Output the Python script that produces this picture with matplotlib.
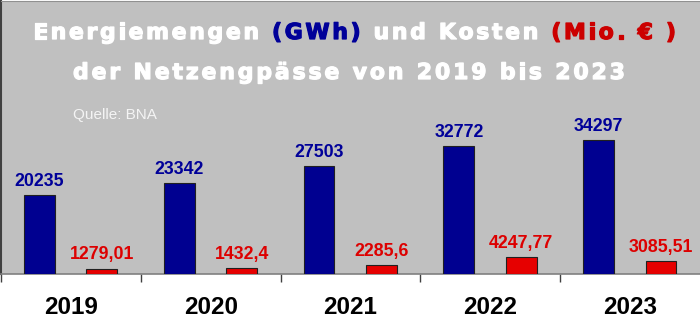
import numpy as np
import matplotlib.pyplot as plt
import matplotlib.patheffects as pe
from matplotlib.font_manager import FontProperties, findfont, get_font
try:
    from matplotlib.ft2font import LoadFlags
    NO_HINT = LoadFlags.NO_HINTING
except ImportError:
    from matplotlib.ft2font import LOAD_NO_HINTING as NO_HINT

# Daten
jahre = ['2019', '2020', '2021', '2022', '2023']
energie_gwh = [20235, 23342, 27503, 32772, 34297]
kosten_mio = [1279.01, 1432.4, 2285.6, 4247.77, 3085.51]
kosten_labels = ['1279,01', '1432,4', '2285,6', '4247,77', '3085,51']

W, H = 700, 334
BLAU = '#000090'
ROT = '#e60000'


def spaced_line(fig, parts, x0, x1, y_px, size):
    # Titelzeile mit Buchstabenabstand, Zeichen fuer Zeichen von x0 bis x1
    fp = FontProperties(family='DejaVu Sans', weight='bold', size=size)
    font = get_font(findfont(fp))
    font.set_size(size, fig.dpi)
    chars = [(c, col) for txt, col in parts for c in txt]
    adv = []
    for c, _ in chars:
        g = font.load_char(ord(c), flags=NO_HINT)
        adv.append(g.linearHoriAdvance / 65536)
    spacing = ((x1 - x0) - sum(adv)) / (len(chars) - 1)
    x = x0
    for (c, col), a in zip(chars, adv):
        if c != ' ':
            fig.text(x / W, 1 - y_px / H, c, color=col, fontproperties=fp,
                     ha='left', va='baseline',
                     path_effects=[pe.withStroke(linewidth=0.9, foreground=col)])
        x += a + spacing


fig = plt.figure(figsize=(7, 3.34), dpi=100, facecolor='white')
base = 273.5
ax = fig.add_axes([1 / W, (H - base) / H, 699 / W, (base - 1) / H])
ax.set_facecolor('#c0c0c0')

x = np.arange(len(jahre))
b1 = ax.bar(x + 0.275, energie_gwh, width=0.22, color=BLAU,
            edgecolor='#202020', linewidth=0.8, zorder=3)
b2 = ax.bar(x + 0.721, kosten_mio, width=0.22, color=ROT,
            edgecolor='#202020', linewidth=0.8, zorder=3)

for rect, v in zip(b1, energie_gwh):
    ax.annotate(str(v), (rect.get_x() + rect.get_width() / 2, v),
                xytext=(0, 6.5), textcoords='offset points', ha='center',
                va='baseline', color='#000099', fontsize=12.8,
                fontweight='bold', family='Liberation Sans')
for rect, v, lab in zip(b2, kosten_mio, kosten_labels):
    ax.annotate(lab, (rect.get_x() + rect.get_width() / 2, v),
                xytext=(0, 6.5), textcoords='offset points', ha='center',
                va='baseline', color='#dd0000', fontsize=12.8,
                fontweight='bold', family='Liberation Sans')

ax.set_xlim(0, 5)
ax.set_ylim(0, 70000)
ax.set_yticks([])
ax.set_xticks(x + 0.5)
ax.set_xticklabels(jahre, fontsize=17.5, fontweight='bold', family='Liberation Sans')
ax.set_xticks(np.arange(0, 5), minor=True)
ax.tick_params(axis='x', which='major', length=0, pad=16)
ax.tick_params(axis='x', which='minor', length=6, width=1, color='#404040')

ax.spines['right'].set_visible(False)
ax.spines['top'].set_color('#909090')
ax.spines['left'].set_color('#404040')
ax.spines['left'].set_linewidth(1.5)
ax.spines['bottom'].set_color('#808080')
ax.spines['bottom'].set_linewidth(1.2)

# Titel
spaced_line(fig, [('Energiemengen ', 'white'), ('(GWh)', '#000099'),
                  (' und Kosten ', 'white'), ('(Mio. € )', '#cc0000')],
            33, 676, 39, 15.8)
spaced_line(fig, [('der Netzengpässe von 2019 bis 2023', 'white')],
            73, 625, 79, 15.8)
fig.text(73 / W, 1 - 119 / H, 'Quelle: BNA', color='#f4f4f4', fontsize=11,
         family='Liberation Sans', ha='left', va='baseline')

fig.savefig('out.png', dpi=100, facecolor='white')
